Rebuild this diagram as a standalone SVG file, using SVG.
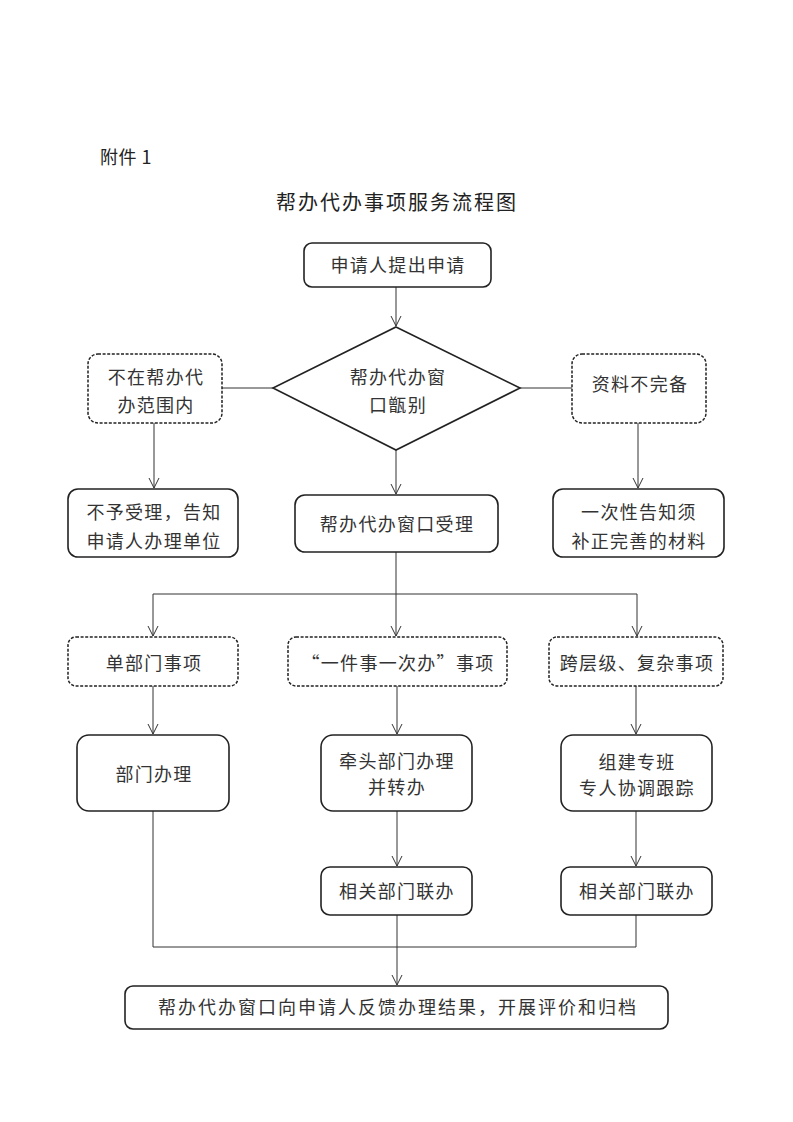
<svg xmlns="http://www.w3.org/2000/svg" width="793" height="1122" viewBox="0 0 793 1122">
<defs>
<style>
.t{font-family:"Noto Sans CJK SC","Liberation Sans",sans-serif;font-size:18px;fill:#333;text-anchor:middle;letter-spacing:1.3px}
.box{fill:#fff;stroke:#222;stroke-width:1.6}
.dash{fill:#fff;stroke:#222;stroke-width:1.5;stroke-dasharray:3 1.6}
.c{fill:none;stroke:#333;stroke-width:1}
</style>
<marker id="arr" markerWidth="12" markerHeight="12" refX="10" refY="5" orient="auto" markerUnits="userSpaceOnUse" viewBox="0 0 12 10">
<path d="M0,0 L10,5 L0,10" fill="none" stroke="#333" stroke-width="1"/>
</marker>
</defs>
<rect width="793" height="1122" fill="#fff"/>
<text x="100" y="164" style="font-family:'Noto Sans CJK SC','Liberation Sans',sans-serif;font-size:18px;fill:#222;letter-spacing:0.5px">附件 1</text>
<text x="397" y="210" style="font-family:'Noto Sans CJK SC','Liberation Sans',sans-serif;font-size:20px;fill:#222;text-anchor:middle;letter-spacing:2px">帮办代办事项服务流程图</text>

<g id="connectors">
<path class="c" d="M396,287 V326" marker-end="url(#arr)"/>
<path class="c" d="M273,388 H222"/>
<path class="c" d="M520,388 H572"/>
<path class="c" d="M154,423 V488" marker-end="url(#arr)"/>
<path class="c" d="M638,423 V488" marker-end="url(#arr)"/>
<path class="c" d="M396,450 V494" marker-end="url(#arr)"/>
<path class="c" d="M396,552 V636" marker-end="url(#arr)"/>
<path class="c" d="M153,594 H637"/>
<path class="c" d="M153,594 V636" marker-end="url(#arr)"/>
<path class="c" d="M637,594 V636" marker-end="url(#arr)"/>
<path class="c" d="M153,686 V734" marker-end="url(#arr)"/>
<path class="c" d="M397,686 V734" marker-end="url(#arr)"/>
<path class="c" d="M636,686 V734" marker-end="url(#arr)"/>
<path class="c" d="M397,811 V866" marker-end="url(#arr)"/>
<path class="c" d="M636,811 V866" marker-end="url(#arr)"/>
<path class="c" d="M153,811 V947 H636 V915"/>
<path class="c" d="M397,915 V985" marker-end="url(#arr)"/>
</g>

<g id="n_apply">
<rect class="box" x="304" y="243" width="187" height="44" rx="8"/>
<text class="t" x="398" y="272">申请人提出申请</text>
</g>
<g id="n_check">
<polygon class="box" points="396,327 520,388 396,450 273,388"/>
<text class="t" x="398" y="384">帮办代办窗</text>
<text class="t" x="398" y="412">口甑别</text>
</g>
<g id="n_outscope">
<rect class="dash" x="88" y="354" width="134" height="69" rx="10"/>
<text class="t" x="156" y="384">不在帮办代</text>
<text class="t" x="156" y="412">办范围内</text>
</g>
<g id="n_incomplete">
<rect class="dash" x="572" y="354" width="134" height="69" rx="10"/>
<text class="t" x="640" y="391">资料不完备</text>
</g>
<g id="n_reject">
<rect class="box" x="68" y="489" width="170" height="68" rx="10"/>
<text class="t" x="154" y="519">不予受理，告知</text>
<text class="t" x="154" y="548">申请人办理单位</text>
</g>
<g id="n_accept">
<rect class="box" x="295" y="495" width="203" height="57" rx="10"/>
<text class="t" x="397" y="531">帮办代办窗口受理</text>
</g>
<g id="n_notify">
<rect class="box" x="553" y="489" width="171" height="68" rx="10"/>
<text class="t" x="639" y="519">一次性告知须</text>
<text class="t" x="639" y="548">补正完善的材料</text>
</g>
<g id="n_single">
<rect class="dash" x="68" y="637" width="170" height="49" rx="8"/>
<text class="t" x="154" y="670">单部门事项</text>
</g>
<g id="n_onething">
<rect class="dash" x="288" y="637" width="219" height="49" rx="8"/>
<text class="t" x="398" y="670">“一件事一次办”事项</text>
</g>
<g id="n_complex">
<rect class="dash" x="549" y="637" width="174" height="49" rx="8"/>
<text class="t" x="637" y="670">跨层级、复杂事项</text>
</g>
<g id="n_dept">
<rect class="box" x="77" y="735" width="152" height="76" rx="12"/>
<text class="t" x="154" y="781">部门办理</text>
</g>
<g id="n_lead">
<rect class="box" x="321" y="735" width="151" height="76" rx="12"/>
<text class="t" x="397" y="768">牵头部门办理</text>
<text class="t" x="397" y="794">并转办</text>
</g>
<g id="n_team">
<rect class="box" x="561" y="735" width="151" height="76" rx="12"/>
<text class="t" x="637" y="769">组建专班</text>
<text class="t" x="637" y="795">专人协调跟踪</text>
</g>
<g id="n_joint1">
<rect class="box" x="321" y="867" width="151" height="48" rx="9"/>
<text class="t" x="397" y="898">相关部门联办</text>
</g>
<g id="n_joint2">
<rect class="box" x="561" y="867" width="151" height="48" rx="9"/>
<text class="t" x="637" y="898">相关部门联办</text>
</g>
<g id="n_feedback">
<rect class="box" x="125" y="986" width="543" height="43" rx="8"/>
<text class="t" x="398" y="1014" style="letter-spacing:2px">帮办代办窗口向申请人反馈办理结果，开展评价和归档</text>
</g>
</svg>
